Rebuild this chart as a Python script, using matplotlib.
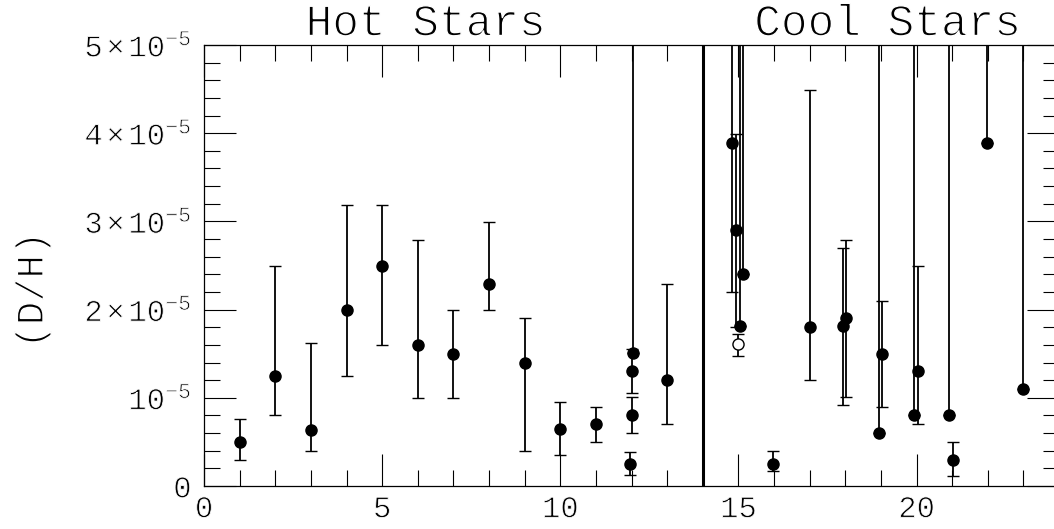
import numpy as np
import matplotlib.pyplot as plt
import matplotlib.patheffects as pe
from matplotlib.ticker import FixedLocator, FixedFormatter, MultipleLocator

plt.rcParams['font.family'] = ['Liberation Mono', 'DejaVu Sans Mono']
plt.rcParams['mathtext.fontset'] = 'custom'
plt.rcParams['mathtext.rm'] = 'Liberation Mono'
plt.rcParams['mathtext.it'] = 'Liberation Mono'
plt.rcParams['mathtext.bf'] = 'Liberation Mono'
plt.rcParams['axes.unicode_minus'] = False

# values in units of 1e-5; err_lo / err_hi are the error-bar ends
# (6.0 = bar runs off the top of the plot)
hot_x = [1, 2, 3, 4, 5, 6, 7, 8, 9, 10, 11, 12.03, 12.0, 12.0, 11.97, 13]
hot_y = [0.50, 1.25, 0.63, 2.00, 2.49, 1.60, 1.50, 2.29, 1.40, 0.65, 0.70,
         1.51, 1.30, 0.80, 0.25, 1.20]
hot_lo = [0.30, 0.80, 0.40, 1.25, 1.60, 1.00, 1.00, 2.00, 0.40, 0.35, 0.50,
          1.51, 1.05, 0.60, 0.13, 0.70]
hot_hi = [0.76, 2.49, 1.62, 3.19, 3.19, 2.79, 2.00, 2.99, 1.90, 0.95, 0.90,
          6.0, 1.55, 1.01, 0.38, 2.29]

cool_x = [14.83, 14.93, 15.14, 15.04, 15.98, 17.0, 17.93, 18.02, 18.95, 19.03,
          19.94, 20.04, 20.92, 21.03, 21.97, 22.98]
cool_y = [3.89, 2.90, 2.40, 1.81, 0.25, 1.80, 1.81, 1.90, 0.60, 1.50,
          0.80, 1.30, 0.80, 0.30, 3.89, 1.10]
cool_lo = [2.20, 1.80, 2.40, 1.81, 0.17, 1.20, 0.92, 1.01, 0.60, 0.90,
           0.80, 0.70, 0.80, 0.11, 3.89, 1.10]
cool_hi = [6.0, 3.99, 6.0, 6.0, 0.40, 4.49, 2.70, 2.79, 6.0, 2.10,
           6.0, 2.50, 6.0, 0.50, 6.0, 6.0]

open_x = [15.0]
open_y = [1.61]
open_lo = [1.47]
open_hi = [1.72]

y_ticks = [0, 1, 2, 3, 4, 5]
y_labels = ['0', r'$10^{-5}$', r'$2\times10^{-5}$', r'$3\times10^{-5}$',
            r'$4\times10^{-5}$', r'$5\times10^{-5}$']
x_ticks = [0, 5, 10, 15, 20]
divider_x = 14

W, H = 1054, 529
fig = plt.figure(figsize=(W / 100, H / 100), dpi=100)
ax = fig.add_axes([204 / W, 43 / H, (1059 - 204) / W, (486 - 45) / H])


def draw(xs, ys, lo, hi, filled=True):
    ys = np.array(ys)
    yerr = [ys - np.array(lo), np.array(hi) - ys]
    ax.errorbar(xs, ys, yerr=yerr, fmt='o', ms=8,
                mfc='black' if filled else 'white', mec='black', mew=1.0,
                ecolor='black', elinewidth=1.3, capsize=4.3, capthick=1.3,
                color='black')


draw(hot_x, hot_y, hot_lo, hot_hi)
draw(cool_x, cool_y, cool_lo, cool_hi)
draw(open_x, open_y, open_lo, open_hi, filled=False)

ax.axvline(divider_x, color='black', lw=2.2)

ax.set_xlim(0, 24)
ax.set_ylim(0, 5)
ax.xaxis.set_major_locator(FixedLocator(x_ticks))
ax.xaxis.set_minor_locator(MultipleLocator(1))
ax.yaxis.set_major_locator(FixedLocator(y_ticks))
ax.yaxis.set_major_formatter(FixedFormatter(y_labels))
ax.yaxis.set_minor_locator(MultipleLocator(0.2))
ax.tick_params(which='both', direction='in', top=True, right=True, width=0.8)
ax.tick_params(which='major', length=23)
ax.tick_params(which='minor', length=11.5)
ax.tick_params(axis='x', labelsize=22, pad=6)
ax.tick_params(axis='y', labelsize=22, pad=9)
for s in ax.spines.values():
    s.set_linewidth(0.9)

# thin the strokes a little so the text looks lighter, like the original
thin_big = [pe.Normal(), pe.PathPatchEffect(edgecolor='white', facecolor='none', linewidth=1.0)]
thin_small = [pe.Normal(), pe.PathPatchEffect(edgecolor='white', facecolor='none', linewidth=0.6)]
for lab in ax.get_xticklabels() + ax.get_yticklabels():
    lab.set_path_effects(thin_small)

fig.text(426 / W, 1 - 24 / H, 'Hot Stars', ha='center', va='center', fontsize=32,
         path_effects=thin_big)
fig.text(888 / W, 1 - 24 / H, 'Cool Stars', ha='center', va='center', fontsize=32,
         path_effects=thin_big)
fig.text(33 / W, 1 - 290 / H, '(D/H)', ha='center', va='center', rotation=90, fontsize=28,
         path_effects=thin_big)

fig.savefig('out.png', dpi=100)
